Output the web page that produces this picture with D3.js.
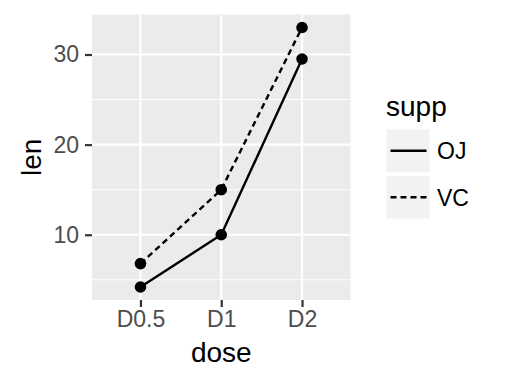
<!DOCTYPE html>
<html>
<head>
<meta charset="utf-8">
<script src="https://cdn.jsdelivr.net/npm/d3@7"></script>
<style>
  body { margin: 0; background: #fff; }
  svg { display: block; font-family: "Liberation Sans", Arial, sans-serif; }
</style>
</head>
<body>
<script>
// data
var doses = ["D0.5", "D1", "D2"];
var supps = ["OJ", "VC"];
var ojLen = [4.2, 10, 29.5];
var vcLen = [6.8, 15, 33];
var yTicks = [10, 20, 30];
var yMinor = [5, 15, 25];

var series = [
  {supp: supps[0], values: ojLen, dash: null},
  {supp: supps[1], values: vcLen, dash: "6,4"}
];

var W = 518, H = 384;
var svg = d3.select("body").append("svg")
  .attr("width", W)
  .attr("height", H);

var panel = {left: 92, top: 14.5, right: 350.5, bottom: 300};

var allVals = ojLen.concat(vcLen);
var lo = d3.min(allVals), hi = d3.max(allVals), pad = (hi - lo) * 0.05;

var y = d3.scaleLinear()
  .domain([lo - pad, hi + pad])
  .range([panel.bottom, panel.top]);

// discrete x with 0.6 expansion like ggplot
var x = d3.scalePoint()
  .domain(doses)
  .range([panel.left, panel.right])
  .padding(0.6);

// panel background
svg.append("rect")
  .attr("x", panel.left)
  .attr("y", panel.top)
  .attr("width", panel.right - panel.left)
  .attr("height", panel.bottom - panel.top)
  .attr("fill", "#ebebeb");

// minor grid
svg.append("g").selectAll("line")
  .data(yMinor)
  .enter().append("line")
  .attr("x1", panel.left).attr("x2", panel.right)
  .attr("y1", function(d) { return y(d); })
  .attr("y2", function(d) { return y(d); })
  .attr("stroke", "#fff")
  .attr("stroke-width", 1.1);

// major grid
svg.append("g").selectAll("line")
  .data(yTicks)
  .enter().append("line")
  .attr("x1", panel.left).attr("x2", panel.right)
  .attr("y1", function(d) { return y(d); })
  .attr("y2", function(d) { return y(d); })
  .attr("stroke", "#fff")
  .attr("stroke-width", 2.2);

svg.append("g").selectAll("line")
  .data(doses)
  .enter().append("line")
  .attr("y1", panel.top).attr("y2", panel.bottom)
  .attr("x1", function(d) { return x(d); })
  .attr("x2", function(d) { return x(d); })
  .attr("stroke", "#fff")
  .attr("stroke-width", 2.2);

// axes
var yAxis = svg.append("g")
  .attr("transform", "translate(" + panel.left + ",0)")
  .call(d3.axisLeft(y).tickValues(yTicks).tickSize(7).tickPadding(6));

var xAxis = svg.append("g")
  .attr("transform", "translate(0," + panel.bottom + ")")
  .call(d3.axisBottom(x).tickSize(7).tickPadding(4));

[yAxis, xAxis].forEach(function(ax) {
  ax.select(".domain").remove();
  ax.selectAll(".tick line").attr("stroke", "#333").attr("stroke-width", 2.2);
  ax.selectAll(".tick text")
    .attr("fill", "#4d4d4d")
    .style("font-size", "23px");
});

// lines and points
var line = d3.line()
  .x(function(d, i) { return x(doses[i]); })
  .y(function(d) { return y(d); });

series.forEach(function(s) {
  svg.append("path")
    .datum(s.values)
    .attr("d", line)
    .attr("fill", "none")
    .attr("stroke", "#000")
    .attr("stroke-width", 2.4)
    .attr("stroke-dasharray", s.dash);

  svg.append("g").selectAll("circle")
    .data(s.values)
    .enter().append("circle")
    .attr("cx", function(d, i) { return x(doses[i]); })
    .attr("cy", function(d) { return y(d); })
    .attr("r", 5.8)
    .attr("fill", "#000");
});

// axis titles
svg.append("text")
  .attr("x", (panel.left + panel.right) / 2)
  .attr("y", 362)
  .attr("text-anchor", "middle")
  .style("font-size", "28px")
  .text("dose");

svg.append("text")
  .attr("transform", "translate(41," + ((panel.top + panel.bottom) / 2) + ") rotate(-90)")
  .attr("text-anchor", "middle")
  .style("font-size", "28px")
  .text("len");

// legend
var legend = svg.append("g").attr("transform", "translate(386,0)");

legend.append("text")
  .attr("x", 0)
  .attr("y", 116)
  .style("font-size", "28px")
  .text("supp");

var keyTop = [129.5, 176];
series.forEach(function(s, i) {
  var g = legend.append("g").attr("transform", "translate(0," + keyTop[i] + ")");
  g.append("rect")
    .attr("x", 0.5).attr("y", 0)
    .attr("width", 43).attr("height", 42.5)
    .attr("fill", "#f2f2f2");
  g.append("line")
    .attr("x1", 4.5).attr("x2", 40.5)
    .attr("y1", 21.25).attr("y2", 21.25)
    .attr("stroke", "#000")
    .attr("stroke-width", 2.4)
    .attr("stroke-dasharray", s.dash);
  g.append("text")
    .attr("x", 51)
    .attr("y", 29.5)
    .style("font-size", "23px")
    .text(s.supp);
});
</script>
</body>
</html>
